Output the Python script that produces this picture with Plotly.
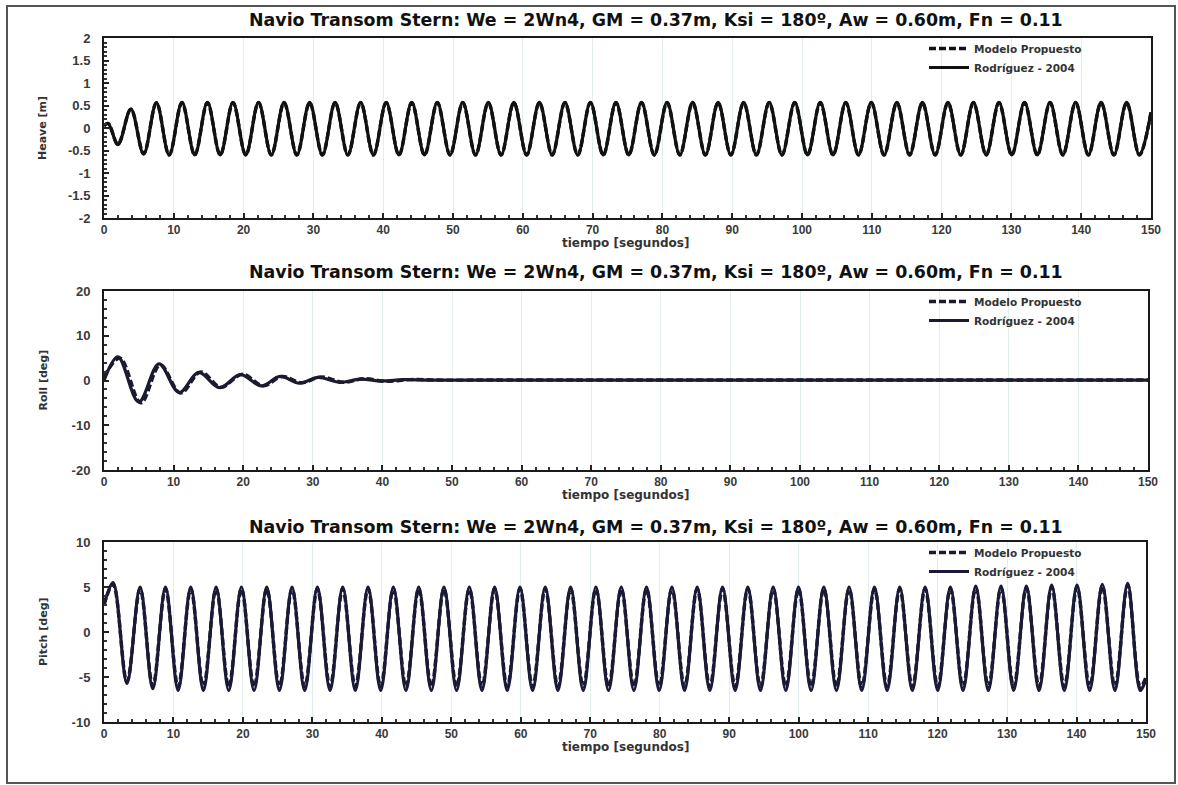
import plotly.graph_objects as go

W, H = 1178, 785

# ---------------- data ----------------
heave_t = [0, 0.6, 2.0, 3.85, 5.68, 7.51, 9.34, 11.17, 13.00, 14.82, 16.65, 18.48, 20.31,
           22.14, 23.97, 25.80, 27.63, 29.46, 31.29, 33.11, 34.94, 36.77, 38.60, 40.43,
           42.26, 44.09, 45.92, 47.75, 49.58, 51.40, 53.23, 55.06, 56.89, 58.72, 60.55,
           62.38, 64.21, 66.04, 67.87, 69.69, 71.52, 73.35, 75.18, 77.01, 78.84, 80.67,
           82.50, 84.33, 86.16, 87.98, 89.81, 91.64, 93.47, 95.30, 97.13, 98.96, 100.79,
           102.62, 104.45, 106.27, 108.10, 109.93, 111.76, 113.59, 115.42, 117.25, 119.08,
           120.91, 122.74, 124.56, 126.39, 128.22, 130.05, 131.88, 133.71, 135.54, 137.37,
           139.20, 141.03, 142.85, 144.68, 146.51, 148.34, 150.0]
heave_rodriguez = [0.05, 0.10, -0.37, 0.42, -0.58, 0.56, -0.60, 0.57, -0.60, 0.57, -0.60,
                   0.57, -0.60, 0.57, -0.60, 0.57, -0.60, 0.57, -0.60, 0.57, -0.60, 0.57,
                   -0.60, 0.57, -0.60, 0.57, -0.60, 0.57, -0.60, 0.57, -0.60, 0.57, -0.60,
                   0.57, -0.60, 0.57, -0.60, 0.57, -0.60, 0.57, -0.60, 0.57, -0.60, 0.57,
                   -0.60, 0.57, -0.60, 0.57, -0.60, 0.57, -0.60, 0.57, -0.60, 0.57, -0.60,
                   0.57, -0.60, 0.57, -0.60, 0.57, -0.60, 0.57, -0.60, 0.57, -0.60, 0.57,
                   -0.60, 0.57, -0.60, 0.57, -0.60, 0.57, -0.60, 0.57, -0.60, 0.57, -0.60,
                   0.57, -0.60, 0.57, -0.60, 0.57, -0.60, 0.35]
heave_modelo = [0.05, 0.10, -0.36, 0.42, -0.57, 0.56, -0.60, 0.56, -0.60, 0.56, -0.60,
                0.56, -0.60, 0.56, -0.60, 0.56, -0.60, 0.56, -0.60, 0.56, -0.60, 0.56,
                -0.60, 0.56, -0.60, 0.56, -0.60, 0.56, -0.60, 0.56, -0.60, 0.56, -0.60,
                0.56, -0.60, 0.56, -0.60, 0.56, -0.60, 0.56, -0.60, 0.56, -0.60, 0.56,
                -0.60, 0.56, -0.60, 0.56, -0.60, 0.56, -0.60, 0.56, -0.60, 0.56, -0.60,
                0.56, -0.60, 0.56, -0.60, 0.56, -0.60, 0.56, -0.60, 0.56, -0.60, 0.56,
                -0.60, 0.56, -0.60, 0.56, -0.60, 0.56, -0.60, 0.56, -0.60, 0.56, -0.60,
                0.56, -0.60, 0.56, -0.60, 0.56, -0.60, 0.35]

roll_t_rodriguez = [0, 2.0, 5.0, 7.9, 10.8, 13.6, 16.6, 19.6, 22.6, 25.3, 28.1, 30.8,
                    33.8, 36.8, 40.0, 43.0, 47.0, 55.0, 150.0]
roll_rodriguez = [0.0, 5.3, -4.8, 3.7, -2.7, 1.8, -1.6, 1.3, -1.2, 0.9, -0.6, 0.7,
                  -0.4, 0.3, -0.1, 0.2, 0.1, 0.1, 0.1]
roll_t_modelo = [0, 2.3, 5.3, 8.1, 11.0, 13.9, 16.8, 19.9, 22.9, 25.6, 28.4, 31.2,
                 34.4, 37.4, 40.5, 44.0, 48.0, 56.0, 150.0]
roll_modelo = [0.8, 5.0, -5.0, 3.5, -2.8, 1.9, -1.5, 1.4, -1.2, 0.9, -0.5, 0.8,
               -0.4, 0.4, -0.2, 0.2, 0.1, 0.1, 0.1]

pitch_t = [0, 1.3, 3.3, 5.20, 7.02, 8.85, 10.67, 12.49, 14.31, 16.14, 17.96, 19.78,
           21.60, 23.43, 25.25, 27.07, 28.89, 30.72, 32.54, 34.36, 36.18, 38.01, 39.83,
           41.65, 43.47, 45.30, 47.12, 48.94, 50.76, 52.59, 54.41, 56.23, 58.05, 59.88,
           61.70, 63.52, 65.34, 67.17, 68.99, 70.81, 72.63, 74.46, 76.28, 78.10, 79.92,
           81.75, 83.57, 85.39, 87.21, 89.04, 90.86, 92.68, 94.50, 96.33, 98.15, 99.97,
           101.79, 103.62, 105.44, 107.26, 109.08, 110.91, 112.73, 114.55, 116.37, 118.20,
           120.02, 121.84, 123.66, 125.49, 127.31, 129.13, 130.95, 132.78, 134.60, 136.42,
           138.24, 140.07, 141.89, 143.71, 145.53, 147.36, 149.18, 150.0]
pitch_rodriguez = [3.0, 5.5, -5.7, 5.0, -6.3, 5.0, -6.5, 5.0, -6.5, 5.0, -6.5, 5.0,
                   -6.5, 5.0, -6.5, 5.0, -6.5, 5.0, -6.5, 5.0, -6.5, 5.0, -6.5, 5.0,
                   -6.5, 5.0, -6.5, 5.0, -6.5, 5.0, -6.5, 5.0, -6.5, 5.0, -6.5, 5.0,
                   -6.5, 5.0, -6.5, 5.0, -6.5, 5.0, -6.5, 5.0, -6.5, 5.0, -6.5, 5.0,
                   -6.5, 5.0, -6.5, 5.0, -6.5, 5.0, -6.5, 5.0, -6.5, 5.0, -6.5, 5.0,
                   -6.5, 5.0, -6.5, 5.0, -6.5, 5.0, -6.5, 5.0, -6.5, 5.1, -6.5, 5.1,
                   -6.5, 5.1, -6.5, 5.2, -6.5, 5.2, -6.5, 5.3, -6.5, 5.4, -6.5, -5.2]
pitch_modelo = [3.0, 5.3, -5.5, 4.8, -6.0, 4.8, -6.1, 4.8, -6.1, 4.8, -6.1, 4.8,
                -6.1, 4.8, -6.1, 4.8, -6.1, 4.8, -6.1, 4.8, -6.1, 4.8, -6.1, 4.8,
                -6.1, 4.8, -6.1, 4.8, -6.1, 4.8, -6.1, 4.8, -6.1, 4.8, -6.1, 4.8,
                -6.1, 4.8, -6.1, 4.8, -6.1, 4.8, -6.1, 4.8, -6.1, 4.8, -6.1, 4.8,
                -6.1, 4.8, -6.1, 4.8, -6.1, 4.8, -6.1, 4.8, -6.1, 4.8, -6.1, 4.8,
                -6.1, 4.8, -6.1, 4.8, -6.1, 4.8, -6.1, 4.8, -6.1, 4.9, -6.1, 4.9,
                -6.1, 4.9, -6.1, 5.0, -6.1, 5.0, -6.1, 5.1, -6.1, 5.2, -6.1, -5.0]

x_ticks = [0, 10, 20, 30, 40, 50, 60, 70, 80, 90, 100, 110, 120, 130, 140, 150]
x_ticktext = ["0", "10", "20", "30", "40", "50", "60", "70", "80", "90", "100",
              "110", "120", "130", "140", "150"]
heave_ticks = [2, 1.5, 1, 0.5, 0, -0.5, -1, -1.5, -2]
heave_ticktext = ["2", "1.5", "1", "0.5", "0", "-0.5", "-1", "-1.5", "-2"]
roll_ticks = [20, 10, 0, -10, -20]
roll_ticktext = ["20", "10", "0", "-10", "-20"]
pitch_ticks = [10, 5, 0, -5, -10]
pitch_ticktext = ["10", "5", "0", "-5", "-10"]

title_text = "Navio Transom Stern: We = 2Wn4, GM = 0.37m, Ksi = 180º, Aw = 0.60m, Fn = 0.11"
name_modelo = "Modelo Propuesto"
name_rodriguez = "Rodríguez - 2004"
x_title = "tiempo [segundos]"
y_titles = ["Heave [m]", "Roll [deg]", "Pitch [deg]"]

# ---------------- layout geometry (pixels) ----------------
panels = [
    dict(x0=104, x1=1151, y0=38, y1=218, title_y=20, xt_y=243),
    dict(x0=104, x1=1148, y0=291, y1=470, title_y=272, xt_y=495),
    dict(x0=104, x1=1146, y0=542, y1=722, title_y=527, xt_y=747),
]
FONT = "DejaVu Sans"
TICKFONT = "Liberation Sans"

fig = go.Figure()

series = [
    (heave_t, heave_modelo, heave_t, heave_rodriguez, "#111111"),
    (roll_t_modelo, roll_modelo, roll_t_rodriguez, roll_rodriguez, "#1b1b30"),
    (pitch_t, pitch_modelo, pitch_t, pitch_rodriguez, "#1a1a36"),
]

for i, (tm, ym, tr, yr, col) in enumerate(series):
    sfx = "" if i == 0 else str(i + 1)
    leg = "legend" if i == 0 else f"legend{i+1}"
    fig.add_trace(go.Scatter(x=tm, y=ym, mode="lines", name=name_modelo,
                             line=dict(color=col, width=3.4, dash="7px,3px", shape="spline", smoothing=1.0),
                             xaxis="x" + sfx, yaxis="y" + sfx, legend=leg))
    fig.add_trace(go.Scatter(x=tr, y=yr, mode="lines", name=name_rodriguez,
                             line=dict(color=col, width=3.2, shape="spline", smoothing=1.0),
                             xaxis="x" + sfx, yaxis="y" + sfx, legend=leg))

ydefs = [
    (heave_ticks, heave_ticktext, [-2, 2], 0.1),
    (roll_ticks, roll_ticktext, [-20, 20], 2),
    (pitch_ticks, pitch_ticktext, [-10, 10], 1),
]

xtickfont = dict(family=TICKFONT, size=12, color="#3a3a3a", weight="bold")
ytickfont = dict(family=TICKFONT, size=13, color="#3a3a3a", weight="bold")
layout = dict(
    width=W, height=H, margin=dict(l=0, r=0, t=0, b=0, pad=0, autoexpand=False),
    paper_bgcolor="white", plot_bgcolor="white",
    font=dict(family=FONT, color="#222"),
    annotations=[], shapes=[],
)

for i, p in enumerate(panels):
    sfx = "" if i == 0 else str(i + 1)
    xd = [p["x0"] / W, p["x1"] / W]
    yd = [1 - p["y1"] / H, 1 - p["y0"] / H]
    tv, tt, rng, mdt = ydefs[i]
    layout["xaxis" + sfx] = dict(
        domain=xd, range=[0, 150], anchor="y" + sfx, tickvals=x_ticks, ticktext=x_ticktext,
        ticks="inside", ticklen=5, tickcolor="#222", tickwidth=1.5,
        minor=dict(ticks="inside", ticklen=3, dtick=2, tick0=0, tickcolor="#333", showgrid=False),
        showgrid=True, gridcolor="#e2eeee", gridwidth=1, zeroline=False,
        showline=True, linecolor="#1a1a1a", linewidth=2, mirror=True,
        tickfont=xtickfont, ticklabelstandoff=0, fixedrange=True, automargin=False,
    )
    layout["yaxis" + sfx] = dict(
        domain=yd, range=rng, anchor="x" + sfx, tickvals=tv, ticktext=tt,
        ticks="inside", ticklen=5, tickcolor="#222", tickwidth=1.5,
        minor=dict(ticks="inside", ticklen=3, dtick=mdt, tick0=0, tickcolor="#333", showgrid=False),
        showgrid=False, zeroline=False,
        showline=True, linecolor="#1a1a1a", linewidth=2, mirror=True,
        tickfont=ytickfont, ticklabelstandoff=9, fixedrange=True, automargin=False,
    )
    leg = "legend" if i == 0 else f"legend{i+1}"
    layout[leg] = dict(
        x=924 / W, y=1 - (p["y0"] - 4) / H, xanchor="left", yanchor="top",
        xref="paper", yref="paper",
        bgcolor="rgba(0,0,0,0)", borderwidth=0, tracegroupgap=0,
        font=dict(family=FONT, size=10.5, color="#333", weight="bold"), itemwidth=40,
    )
    # panel title
    layout["annotations"].append(dict(
        text="<b>" + title_text + "</b>", x=656 / W, y=1 - p["title_y"] / H,
        xref="paper", yref="paper", xanchor="center", yanchor="middle", showarrow=False,
        font=dict(family=FONT, size=17.4, color="#111")))
    # x title
    layout["annotations"].append(dict(
        text="<b>" + x_title + "</b>", x=625 / W, y=1 - p["xt_y"] / H,
        xref="paper", yref="paper", xanchor="center", yanchor="middle", showarrow=False,
        font=dict(family=FONT, size=12, color="#333")))
    # y title
    layout["annotations"].append(dict(
        text="<b>" + y_titles[i] + "</b>", x=43 / W, y=1 - (p["y0"] + p["y1"]) / 2 / H,
        xref="paper", yref="paper", xanchor="center", yanchor="middle", showarrow=False,
        textangle=-90, font=dict(family=FONT, size=11, color="#333")))

# outer frame
layout["shapes"].append(dict(type="rect", xref="paper", yref="paper",
                             x0=7 / W, x1=1175 / W, y0=1 - 783 / H, y1=1 - 6 / H,
                             line=dict(color="#555", width=2), fillcolor="rgba(0,0,0,0)"))

fig.update_layout(**layout)
fig.write_html("out.html")
